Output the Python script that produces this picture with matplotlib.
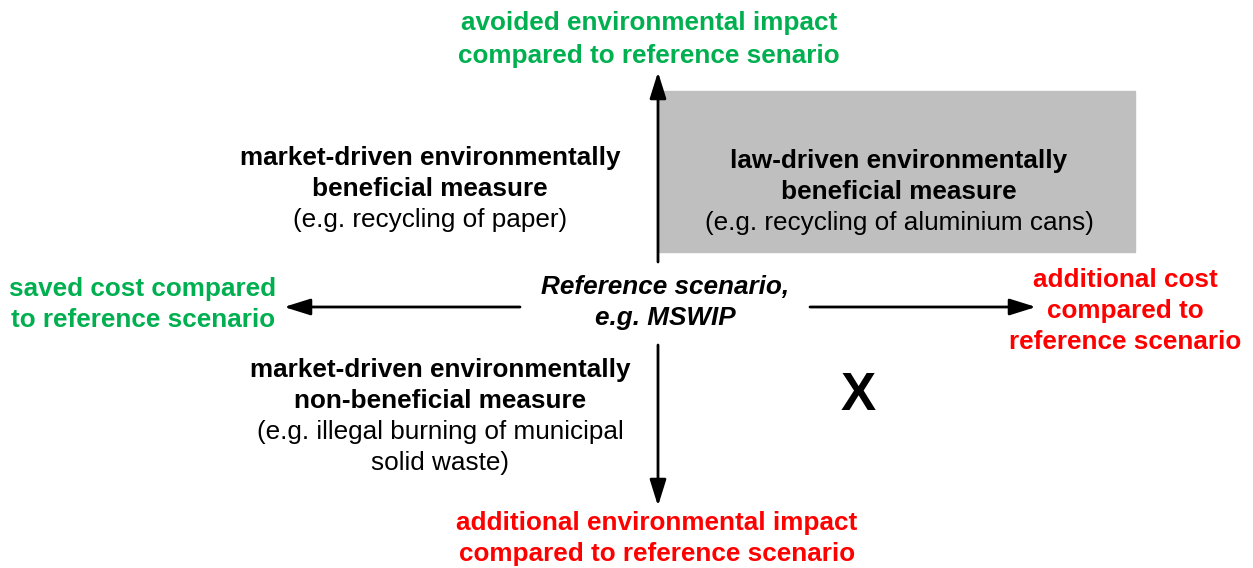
import matplotlib.pyplot as plt
from matplotlib.patches import Rectangle

green = "#00B050"
red = "#FF0000"
box_grey = "#BFBFBF"
font = "Liberation Sans"

top_label = ["avoided environmental impact", "compared to reference senario"]
bottom_label = ["additional environmental impact", "compared to reference scenario"]
left_label = ["saved cost compared", "to reference scenario"]
right_label = ["additional cost", "compared to", "reference scenario"]
centre_label = ["Reference scenario,", "e.g. MSWIP"]
upper_left = ["market-driven environmentally", "beneficial measure", "(e.g. recycling of paper)"]
upper_right = ["law-driven environmentally", "beneficial measure", "(e.g. recycling of aluminium cans)"]
lower_left = ["market-driven environmentally", "non-beneficial measure",
              "(e.g. illegal burning of municipal", "solid waste)"]
lower_right = "X"

fig = plt.figure(figsize=(12.53, 5.68), dpi=100)
ax = fig.add_axes([0, 0, 1, 1])
ax.set_xlim(0, 1253)
ax.set_ylim(568, 0)
ax.axis("off")

ax.add_patch(Rectangle((659, 91), 476, 161, color=box_grey, zorder=0))


def lines(x, y0, texts, step=31, color="black", weights=None, style="normal", size=18.8):
	for i, t in enumerate(texts):
		w = weights[i] if weights else "bold"
		ax.text(x, y0 + i * step, t, ha="center", va="center", color=color,
				fontweight=w, fontstyle=style, fontsize=size, fontname=font)


def arrow(x0, y0, x1, y1):
	ax.annotate("", xy=(x1, y1), xytext=(x0, y0),
				arrowprops=dict(arrowstyle="-|>,head_length=1.6,head_width=0.5",
								lw=2, color="black", shrinkA=0, shrinkB=0))


arrow(658, 262, 658, 72)
arrow(658, 345, 658, 506)
arrow(520, 307, 284, 307)
arrow(810, 307, 1036, 307)

lines(649, 23, top_label, step=33, color=green)
lines(657, 523, bottom_label, color=red)
lines(143, 289, left_label, color=green)
lines(1125, 280, right_label, color=red)
lines(665, 287, centre_label, style="italic")
lines(430, 158, upper_left, weights=["bold", "bold", "normal"])
lines(899, 161, upper_right, weights=["bold", "bold", "normal"])
lines(440, 370, lower_left, weights=["bold", "bold", "normal", "normal"])
ax.text(858, 396, lower_right, ha="center", va="center", fontsize=38,
		fontweight="bold", fontname=font)

fig.savefig("out.png", dpi=100)
